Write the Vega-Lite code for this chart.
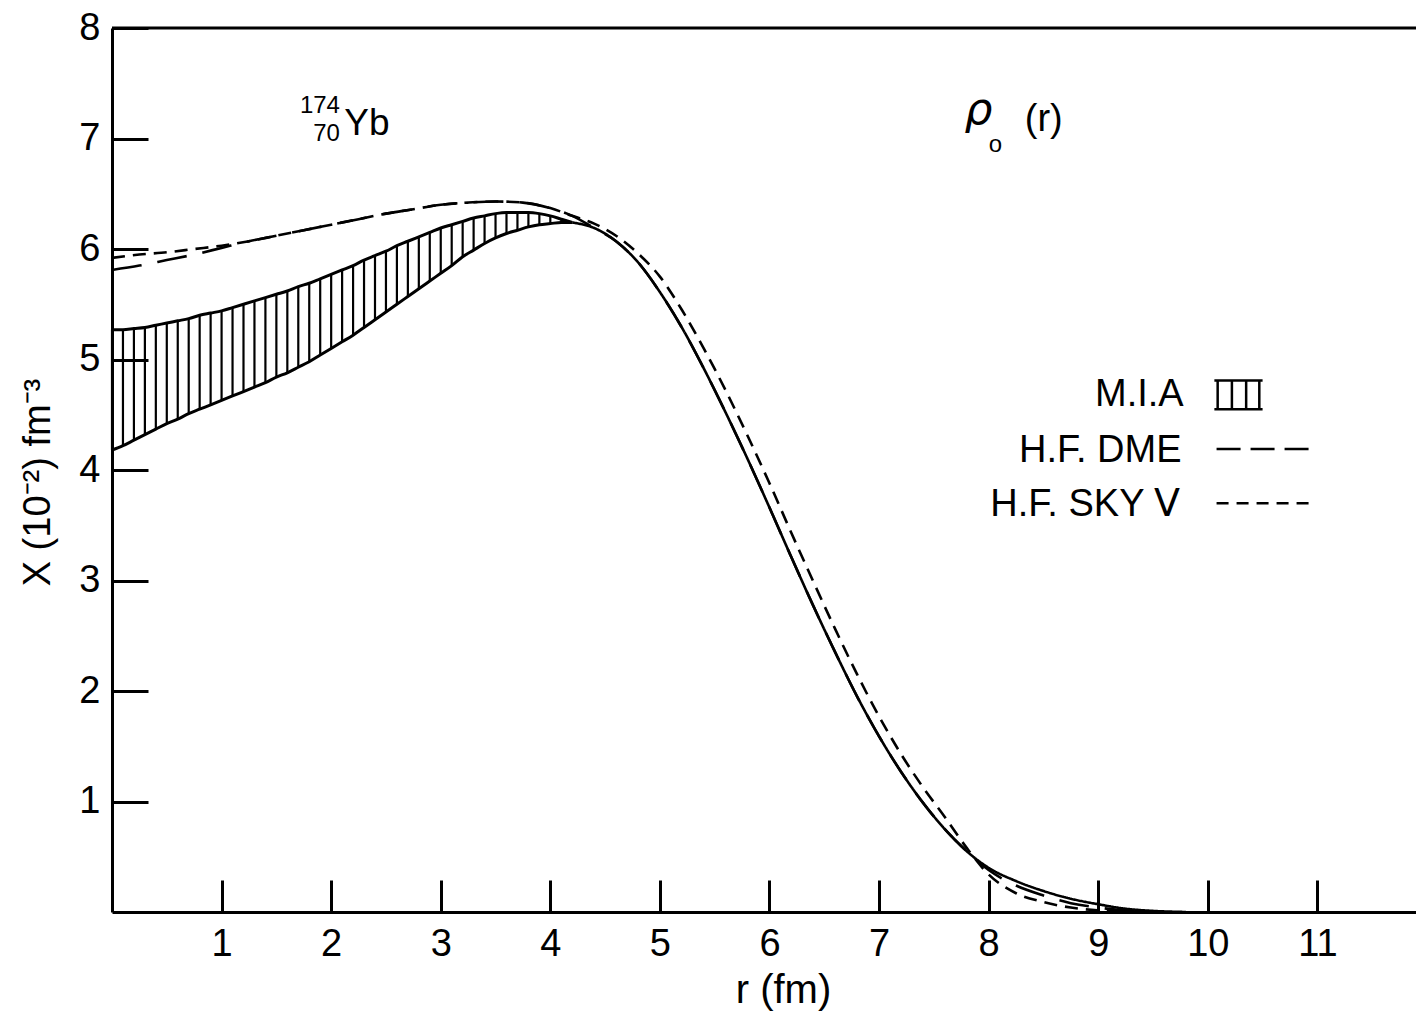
{
  "$schema": "https://vega.github.io/schema/vega-lite/v6.json",
  "width": 1304,
  "height": 884,
  "autosize": {"type": "none"},
  "padding": {"left": 112, "top": 28, "right": 0, "bottom": 99},
  "background": "white",
  "config": {
    "view": {"stroke": null},
    "font": "Liberation Sans",
    "axis": {
      "grid": false,
      "domainColor": "black",
      "domainWidth": 3,
      "tickColor": "black",
      "tickWidth": 3,
      "labelColor": "black",
      "labelFont": "Liberation Sans",
      "labelFontSize": 38,
      "titleFont": "Liberation Sans",
      "titleFontSize": 38,
      "titleFontWeight": "normal",
      "titleColor": "black"
    }
  },
  "datasets": {
    "one": [{}],
    "band": [
      {"r": 0.0, "lo": 4.18, "hi": 5.27},
      {"r": 0.1, "lo": 4.22, "hi": 5.27},
      {"r": 0.2, "lo": 4.27, "hi": 5.28},
      {"r": 0.3, "lo": 4.32, "hi": 5.29},
      {"r": 0.4, "lo": 4.37, "hi": 5.31},
      {"r": 0.5, "lo": 4.42, "hi": 5.33},
      {"r": 0.6, "lo": 4.46, "hi": 5.35},
      {"r": 0.7, "lo": 4.51, "hi": 5.37},
      {"r": 0.8, "lo": 4.55, "hi": 5.40},
      {"r": 0.9, "lo": 4.59, "hi": 5.42},
      {"r": 1.0, "lo": 4.63, "hi": 5.44},
      {"r": 1.1, "lo": 4.67, "hi": 5.47},
      {"r": 1.2, "lo": 4.71, "hi": 5.50},
      {"r": 1.3, "lo": 4.75, "hi": 5.53},
      {"r": 1.4, "lo": 4.79, "hi": 5.56},
      {"r": 1.5, "lo": 4.84, "hi": 5.59},
      {"r": 1.6, "lo": 4.88, "hi": 5.62},
      {"r": 1.7, "lo": 4.93, "hi": 5.66},
      {"r": 1.8, "lo": 4.98, "hi": 5.69},
      {"r": 1.9, "lo": 5.04, "hi": 5.73},
      {"r": 2.0, "lo": 5.10, "hi": 5.77},
      {"r": 2.1, "lo": 5.16, "hi": 5.81},
      {"r": 2.2, "lo": 5.22, "hi": 5.85},
      {"r": 2.3, "lo": 5.29, "hi": 5.90},
      {"r": 2.4, "lo": 5.36, "hi": 5.94},
      {"r": 2.5, "lo": 5.43, "hi": 5.98},
      {"r": 2.6, "lo": 5.50, "hi": 6.03},
      {"r": 2.7, "lo": 5.57, "hi": 6.07},
      {"r": 2.8, "lo": 5.64, "hi": 6.11},
      {"r": 2.9, "lo": 5.71, "hi": 6.15},
      {"r": 3.0, "lo": 5.78, "hi": 6.19},
      {"r": 3.1, "lo": 5.85, "hi": 6.22},
      {"r": 3.2, "lo": 5.93, "hi": 6.25},
      {"r": 3.3, "lo": 5.99, "hi": 6.28},
      {"r": 3.4, "lo": 6.05, "hi": 6.30},
      {"r": 3.5, "lo": 6.10, "hi": 6.32},
      {"r": 3.6, "lo": 6.14, "hi": 6.33},
      {"r": 3.7, "lo": 6.17, "hi": 6.33},
      {"r": 3.8, "lo": 6.20, "hi": 6.33},
      {"r": 3.9, "lo": 6.22, "hi": 6.32},
      {"r": 4.0, "lo": 6.23, "hi": 6.30},
      {"r": 4.1, "lo": 6.24, "hi": 6.27},
      {"r": 4.2, "lo": 6.24, "hi": 6.24}
    ],
    "curves": [
      {"series": "MIA", "r": 4.2, "v": 6.24},
      {"series": "MIA", "r": 4.4, "v": 6.19},
      {"series": "MIA", "r": 4.6, "v": 6.07},
      {"series": "MIA", "r": 4.8, "v": 5.88},
      {"series": "MIA", "r": 5.0, "v": 5.61},
      {"series": "MIA", "r": 5.2, "v": 5.29},
      {"series": "MIA", "r": 5.4, "v": 4.92},
      {"series": "MIA", "r": 5.6, "v": 4.52},
      {"series": "MIA", "r": 5.8, "v": 4.10},
      {"series": "MIA", "r": 6.0, "v": 3.66},
      {"series": "MIA", "r": 6.2, "v": 3.21},
      {"series": "MIA", "r": 6.4, "v": 2.77},
      {"series": "MIA", "r": 6.6, "v": 2.35},
      {"series": "MIA", "r": 6.8, "v": 1.95},
      {"series": "MIA", "r": 7.0, "v": 1.59},
      {"series": "MIA", "r": 7.2, "v": 1.27},
      {"series": "MIA", "r": 7.4, "v": 0.99},
      {"series": "MIA", "r": 7.6, "v": 0.75},
      {"series": "MIA", "r": 7.8, "v": 0.55},
      {"series": "MIA", "r": 8.0, "v": 0.40},
      {"series": "MIA", "r": 8.25, "v": 0.28},
      {"series": "MIA", "r": 8.5, "v": 0.19},
      {"series": "MIA", "r": 8.75, "v": 0.12},
      {"series": "MIA", "r": 9.0, "v": 0.07},
      {"series": "MIA", "r": 9.25, "v": 0.03},
      {"series": "MIA", "r": 9.5, "v": 0.01},
      {"series": "MIA", "r": 9.8, "v": 0.0},
      {"series": "DME", "r": 0.0, "v": 5.81},
      {"series": "DME", "r": 0.25, "v": 5.85},
      {"series": "DME", "r": 0.5, "v": 5.90},
      {"series": "DME", "r": 0.75, "v": 5.95},
      {"series": "DME", "r": 1.0, "v": 6.01},
      {"series": "DME", "r": 1.25, "v": 6.07},
      {"series": "DME", "r": 1.5, "v": 6.12},
      {"series": "DME", "r": 1.75, "v": 6.17},
      {"series": "DME", "r": 2.0, "v": 6.22},
      {"series": "DME", "r": 2.25, "v": 6.27},
      {"series": "DME", "r": 2.5, "v": 6.32},
      {"series": "DME", "r": 2.75, "v": 6.36},
      {"series": "DME", "r": 3.0, "v": 6.40},
      {"series": "DME", "r": 3.25, "v": 6.42},
      {"series": "DME", "r": 3.5, "v": 6.43},
      {"series": "DME", "r": 3.75, "v": 6.42},
      {"series": "DME", "r": 4.0, "v": 6.37},
      {"series": "DME", "r": 4.2, "v": 6.30},
      {"series": "DME", "r": 4.4, "v": 6.19},
      {"series": "DME", "r": 4.6, "v": 6.07},
      {"series": "DME", "r": 4.8, "v": 5.88},
      {"series": "DME", "r": 5.0, "v": 5.61},
      {"series": "DME", "r": 5.2, "v": 5.29},
      {"series": "DME", "r": 5.4, "v": 4.92},
      {"series": "DME", "r": 5.6, "v": 4.52},
      {"series": "DME", "r": 5.8, "v": 4.10},
      {"series": "DME", "r": 6.0, "v": 3.66},
      {"series": "DME", "r": 6.2, "v": 3.21},
      {"series": "DME", "r": 6.4, "v": 2.77},
      {"series": "DME", "r": 6.6, "v": 2.35},
      {"series": "DME", "r": 6.8, "v": 1.95},
      {"series": "DME", "r": 7.0, "v": 1.59},
      {"series": "DME", "r": 7.2, "v": 1.27},
      {"series": "DME", "r": 7.4, "v": 0.99},
      {"series": "DME", "r": 7.6, "v": 0.75},
      {"series": "DME", "r": 7.8, "v": 0.55},
      {"series": "DME", "r": 8.0, "v": 0.38},
      {"series": "DME", "r": 8.25, "v": 0.24},
      {"series": "DME", "r": 8.5, "v": 0.15},
      {"series": "DME", "r": 8.75, "v": 0.08},
      {"series": "DME", "r": 9.0, "v": 0.04},
      {"series": "DME", "r": 9.3, "v": 0.01},
      {"series": "DME", "r": 9.6, "v": 0.0},
      {"series": "SKY", "r": 0.0, "v": 5.92},
      {"series": "SKY", "r": 0.25, "v": 5.95},
      {"series": "SKY", "r": 0.5, "v": 5.97},
      {"series": "SKY", "r": 0.75, "v": 6.00},
      {"series": "SKY", "r": 1.0, "v": 6.03},
      {"series": "SKY", "r": 1.25, "v": 6.07},
      {"series": "SKY", "r": 1.5, "v": 6.12},
      {"series": "SKY", "r": 1.75, "v": 6.17},
      {"series": "SKY", "r": 2.0, "v": 6.22},
      {"series": "SKY", "r": 2.25, "v": 6.27},
      {"series": "SKY", "r": 2.5, "v": 6.32},
      {"series": "SKY", "r": 2.75, "v": 6.36},
      {"series": "SKY", "r": 3.0, "v": 6.40},
      {"series": "SKY", "r": 3.25, "v": 6.42},
      {"series": "SKY", "r": 3.5, "v": 6.43},
      {"series": "SKY", "r": 3.75, "v": 6.42},
      {"series": "SKY", "r": 4.0, "v": 6.37},
      {"series": "SKY", "r": 4.2, "v": 6.30},
      {"series": "SKY", "r": 4.4, "v": 6.23},
      {"series": "SKY", "r": 4.6, "v": 6.12},
      {"series": "SKY", "r": 4.8, "v": 5.96},
      {"series": "SKY", "r": 5.0, "v": 5.75},
      {"series": "SKY", "r": 5.2, "v": 5.45},
      {"series": "SKY", "r": 5.4, "v": 5.10},
      {"series": "SKY", "r": 5.6, "v": 4.72},
      {"series": "SKY", "r": 5.8, "v": 4.31},
      {"series": "SKY", "r": 6.0, "v": 3.88},
      {"series": "SKY", "r": 6.2, "v": 3.43},
      {"series": "SKY", "r": 6.4, "v": 2.99},
      {"series": "SKY", "r": 6.6, "v": 2.56},
      {"series": "SKY", "r": 6.8, "v": 2.15},
      {"series": "SKY", "r": 7.0, "v": 1.77},
      {"series": "SKY", "r": 7.2, "v": 1.43},
      {"series": "SKY", "r": 7.4, "v": 1.13},
      {"series": "SKY", "r": 7.6, "v": 0.86},
      {"series": "SKY", "r": 7.8, "v": 0.58},
      {"series": "SKY", "r": 8.0, "v": 0.34},
      {"series": "SKY", "r": 8.25, "v": 0.17},
      {"series": "SKY", "r": 8.5, "v": 0.09},
      {"series": "SKY", "r": 8.75, "v": 0.04},
      {"series": "SKY", "r": 9.0, "v": 0.015},
      {"series": "SKY", "r": 9.3, "v": 0.0}
    ],
    "hatchkey": [{"r": 10.09}, {"r": 10.22}, {"r": 10.35}, {"r": 10.47}]
  },
  "layer": [
    {
      "data": {"name": "band"},
      "mark": {"type": "rule", "color": "black", "strokeWidth": 2.2},
      "encoding": {
        "x": {
          "field": "r", "type": "quantitative",
          "scale": {"domain": [0, 11.9], "nice": false, "zero": false},
          "axis": {
            "values": [1, 2, 3, 4, 5, 6, 7, 8, 9, 10, 11],
            "format": "d",
            "tickSize": -32,
            "labelPadding": 45,
            "labelFlush": false,
            "labelOverlap": false,
            "title": "r (fm)",
            "titleFontSize": 40,
            "titleX": 671,
            "titleY": 78,
            "titleBaseline": "middle"
          }
        },
        "y": {
          "field": "lo", "type": "quantitative",
          "scale": {"domain": [0, 8], "nice": false, "zero": false},
          "axis": {
            "values": [1, 2, 3, 4, 5, 6, 7, 8],
            "format": "d",
            "tickSize": -36,
            "labelPadding": 48,
            "labelFlush": false,
            "labelOverlap": false,
            "title": "X (10⁻²) fm⁻³",
            "titleX": -74,
            "titleY": 454,
            "titleAngle": -90,
            "titleBaseline": "middle"
          }
        },
        "y2": {"field": "hi"}
      }
    },
    {
      "data": {"name": "band"},
      "mark": {"type": "line", "color": "black", "strokeWidth": 3, "interpolate": "monotone"},
      "encoding": {
        "x": {"field": "r", "type": "quantitative"},
        "y": {"field": "hi", "type": "quantitative"}
      }
    },
    {
      "data": {"name": "band"},
      "mark": {"type": "line", "color": "black", "strokeWidth": 3, "interpolate": "monotone"},
      "encoding": {
        "x": {"field": "r", "type": "quantitative"},
        "y": {"field": "lo", "type": "quantitative"}
      }
    },
    {
      "data": {"name": "curves"},
      "mark": {"type": "line", "color": "black", "strokeWidth": 2.6, "interpolate": "monotone"},
      "encoding": {
        "x": {"field": "r", "type": "quantitative"},
        "y": {"field": "v", "type": "quantitative"},
        "detail": {"field": "series"},
        "strokeDash": {
          "field": "series", "type": "nominal",
          "scale": {"domain": ["MIA", "DME", "SKY"], "range": [[1, 0], [30, 16], [13, 8]]},
          "legend": null
        },
        "order": {"field": "r", "type": "quantitative"}
      }
    },
    {
      "data": {"name": "one"},
      "mark": {"type": "rule", "color": "black", "strokeWidth": 3},
      "encoding": {"y": {"datum": 8}}
    },
    {
      "data": {"name": "one"},
      "mark": {"type": "text", "align": "right", "baseline": "middle", "fontSize": 38, "font": "Liberation Sans"},
      "encoding": {"x": {"datum": 9.78}, "y": {"datum": 4.68}, "text": {"value": "M.I.A"}}
    },
    {
      "data": {"name": "one"},
      "mark": {"type": "text", "align": "right", "baseline": "middle", "fontSize": 38, "font": "Liberation Sans"},
      "encoding": {"x": {"datum": 9.76}, "y": {"datum": 4.17}, "text": {"value": "H.F. DME"}}
    },
    {
      "data": {"name": "one"},
      "mark": {"type": "text", "align": "right", "baseline": "middle", "fontSize": 38, "font": "Liberation Sans"},
      "encoding": {"x": {"datum": 9.75}, "y": {"datum": 3.68}, "text": {"value": "H.F. SKY Ⅴ"}}
    },
    {
      "data": {"name": "hatchkey"},
      "mark": {"type": "rule", "color": "black", "strokeWidth": 2.5},
      "encoding": {"x": {"field": "r", "type": "quantitative"}, "y": {"datum": 4.55}, "y2": {"datum": 4.81}}
    },
    {
      "data": {"name": "one"},
      "mark": {"type": "rule", "color": "black", "strokeWidth": 2.5},
      "encoding": {"x": {"datum": 10.06}, "x2": {"datum": 10.5}, "y": {"datum": 4.55}}
    },
    {
      "data": {"name": "one"},
      "mark": {"type": "rule", "color": "black", "strokeWidth": 2.5},
      "encoding": {"x": {"datum": 10.06}, "x2": {"datum": 10.5}, "y": {"datum": 4.81}}
    },
    {
      "data": {"name": "one"},
      "mark": {"type": "rule", "color": "black", "strokeWidth": 2.5, "strokeDash": [24, 10]},
      "encoding": {"x": {"datum": 10.08}, "x2": {"datum": 10.92}, "y": {"datum": 4.19}}
    },
    {
      "data": {"name": "one"},
      "mark": {"type": "rule", "color": "black", "strokeWidth": 2.5, "strokeDash": [12, 8]},
      "encoding": {"x": {"datum": 10.08}, "x2": {"datum": 10.92}, "y": {"datum": 3.7}}
    },
    {
      "data": {"name": "one"},
      "mark": {"type": "text", "align": "right", "baseline": "middle", "fontSize": 24, "font": "Liberation Sans"},
      "encoding": {"x": {"datum": 2.08}, "y": {"datum": 7.29}, "text": {"value": "174"}}
    },
    {
      "data": {"name": "one"},
      "mark": {"type": "text", "align": "right", "baseline": "middle", "fontSize": 24, "font": "Liberation Sans"},
      "encoding": {"x": {"datum": 2.08}, "y": {"datum": 7.04}, "text": {"value": "70"}}
    },
    {
      "data": {"name": "one"},
      "mark": {"type": "text", "align": "left", "baseline": "alphabetic", "fontSize": 37, "font": "Liberation Sans"},
      "encoding": {"x": {"datum": 2.12}, "y": {"datum": 7.03}, "text": {"value": "Yb"}}
    },
    {
      "data": {"name": "one"},
      "mark": {"type": "text", "align": "left", "baseline": "alphabetic", "fontSize": 44, "font": "DejaVu Sans", "fontStyle": "italic"},
      "encoding": {"x": {"datum": 7.78}, "y": {"datum": 7.13}, "text": {"value": "ρ"}}
    },
    {
      "data": {"name": "one"},
      "mark": {"type": "text", "align": "left", "baseline": "middle", "fontSize": 24, "font": "Liberation Sans"},
      "encoding": {"x": {"datum": 8.0}, "y": {"datum": 6.94}, "text": {"value": "o"}}
    },
    {
      "data": {"name": "one"},
      "mark": {"type": "text", "align": "left", "baseline": "middle", "fontSize": 38, "font": "Liberation Sans"},
      "encoding": {"x": {"datum": 8.33}, "y": {"datum": 7.17}, "text": {"value": "(r)"}}
    }
  ]
}
